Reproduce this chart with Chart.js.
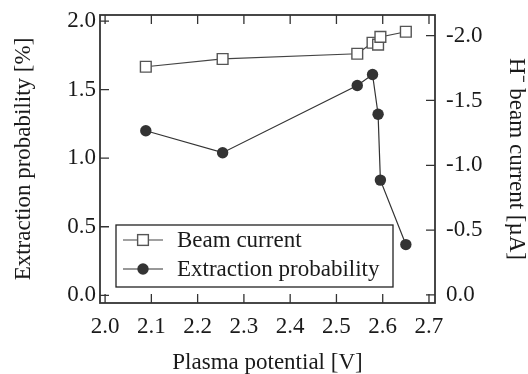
<!DOCTYPE html>
<html>
<head>
<meta charset="utf-8">
<script src="https://cdn.jsdelivr.net/npm/chart.js@4/dist/chart.umd.min.js"></script>
<style>
  html, body { margin: 0; padding: 0; background: #fff; }
  #wrap { width: 528px; height: 374px; position: relative; }
</style>
</head>
<body>
<div id="wrap"><canvas id="chart"></canvas></div>
<script>
// plasma potential [V] of each measurement
const plasmaPotential = [2.088, 2.254, 2.545, 2.578, 2.590, 2.595, 2.650];
// extraction probability [%] (left axis)
const extractionProb = [1.20, 1.04, 1.53, 1.61, 1.32, 0.84, 0.37];
// H- beam current [uA] (right axis, reversed)
const beamCurrent = [-1.76, -1.82, -1.86, -1.945, -1.93, -1.99, -2.03];

const xTicks = [2.0, 2.1, 2.2, 2.3, 2.4, 2.5, 2.6, 2.7];
const leftTicks = [0.0, 0.5, 1.0, 1.5, 2.0];
const rightTicks = [0.0, -0.5, -1.0, -1.5, -2.0];

const FONT = '"Liberation Serif", "Times New Roman", serif';
const INK = '#1a1a1a';

const fmt = v => (Math.abs(v) < 1e-9 ? 0 : v).toFixed(1);

// inward ticks on all four sides plus the frame
const frameTicks = {
  id: 'frameTicks',
  afterDraw(chart) {
    const { ctx, chartArea: a, scales } = chart;
    const len = 9;
    ctx.save();
    ctx.strokeStyle = '#333';
    ctx.lineWidth = 1.3;
    ctx.beginPath();
    xTicks.forEach(v => {
      const px = scales.x.getPixelForValue(v);
      ctx.moveTo(px, a.bottom); ctx.lineTo(px, a.bottom - len);
      ctx.moveTo(px, a.top); ctx.lineTo(px, a.top + len);
    });
    leftTicks.forEach(v => {
      const py = scales.y.getPixelForValue(v);
      ctx.moveTo(a.left, py); ctx.lineTo(a.left + len, py);
    });
    rightTicks.forEach(v => {
      const py = scales.y2.getPixelForValue(v);
      ctx.moveTo(a.right, py); ctx.lineTo(a.right - len, py);
    });
    ctx.stroke();
    ctx.lineWidth = 1.8;
    ctx.strokeRect(a.left, a.top, a.width, a.height);
    ctx.restore();
  }
};

// boxed legend inside the lower-left of the plot
const boxLegend = {
  id: 'boxLegend',
  afterDraw(chart) {
    const { ctx, chartArea: a } = chart;
    const x0 = a.left + 16, w = 277, h = 62;
    const y0 = a.bottom - 16 - h;
    ctx.save();
    ctx.fillStyle = '#fff';
    ctx.fillRect(x0, y0, w, h);
    ctx.strokeStyle = '#222';
    ctx.lineWidth = 1.3;
    ctx.strokeRect(x0, y0, w, h);
    chart.data.datasets.forEach((ds, i) => {
      const cy = y0 + 15 + i * 29;
      const lx = x0 + 7, mx = x0 + 27;
      ctx.strokeStyle = ds.borderColor;
      ctx.lineWidth = ds.borderWidth;
      ctx.beginPath();
      ctx.moveTo(lx, cy); ctx.lineTo(lx + 40, cy);
      ctx.stroke();
      ctx.fillStyle = ds.pointBackgroundColor;
      ctx.strokeStyle = ds.pointBorderColor;
      ctx.lineWidth = ds.pointBorderWidth;
      if (ds.pointStyle === 'rect') {
        const s = Math.SQRT1_2 * ds.pointRadius;
        ctx.fillRect(mx - s, cy - s, 2 * s, 2 * s);
        ctx.strokeRect(mx - s, cy - s, 2 * s, 2 * s);
      } else {
        ctx.beginPath();
        ctx.arc(mx, cy, ds.pointRadius, 0, Math.PI * 2);
        ctx.fill();
      }
      ctx.fillStyle = INK;
      ctx.font = '23px ' + FONT;
      ctx.textBaseline = 'middle';
      ctx.textAlign = 'left';
      ctx.fillText(ds.label, x0 + 61, cy + 1);
    });
    ctx.restore();
  }
};

const noPad = s => { s.paddingTop = 0; s.paddingBottom = 0; s.paddingLeft = 0; s.paddingRight = 0; };

const ctx = document.getElementById('chart').getContext('2d');

new Chart(ctx, {
  type: 'scatter',
  data: {
    datasets: [{
      label: 'Beam current',
      data: plasmaPotential.map((x, i) => ({ x, y: beamCurrent[i] })),
      yAxisID: 'y2',
      showLine: true,
      borderColor: '#444',
      borderWidth: 1.2,
      pointStyle: 'rect',
      pointRadius: 7.6,
      pointBackgroundColor: '#fff',
      pointBorderColor: '#555',
      pointBorderWidth: 1.4
    }, {
      label: 'Extraction probability',
      data: plasmaPotential.map((x, i) => ({ x, y: extractionProb[i] })),
      yAxisID: 'y',
      showLine: true,
      borderColor: '#333',
      borderWidth: 1.2,
      pointStyle: 'circle',
      pointRadius: 5.7,
      pointBackgroundColor: '#333',
      pointBorderColor: '#333',
      pointBorderWidth: 0
    }]
  },
  options: {
    responsive: true,
    maintainAspectRatio: false,
    animation: false,
    layout: { padding: { top: 15, left: 0, right: 0, bottom: 0 } },
    plugins: {
      legend: { display: false },
      tooltip: { enabled: false }
    },
    scales: {
      x: {
        type: 'linear',
        min: 1.989, max: 2.713,
        grid: { display: false, drawTicks: false },
        border: { display: false },
        afterBuildTicks: s => { s.ticks = xTicks.map(value => ({ value })); },
        afterFit: s => { s.height = 71; noPad(s); },
        ticks: {
          padding: 10,
          color: INK,
          font: { family: FONT, size: 23 },
          maxRotation: 0,
          callback: fmt
        },
        title: {
          display: true,
          text: 'Plasma potential [V]',
          color: INK,
          font: { family: FONT, size: 23, lineHeight: 1 },
          padding: { top: 0, bottom: 0 }
        }
      },
      y: {
        position: 'left',
        min: -0.056, max: 2.044,
        grid: { display: false, drawTicks: false },
        border: { display: false },
        afterBuildTicks: s => { s.ticks = leftTicks.map(value => ({ value })); },
        afterFit: s => { s.width = 100; noPad(s); },
        ticks: {
          padding: 4,
          color: INK,
          font: { family: FONT, size: 23 },
          callback: fmt
        },
        title: {
          display: true,
          text: 'Extraction probability [%]',
          color: INK,
          font: { family: FONT, size: 23, lineHeight: 1 },
          padding: { top: 12, bottom: 0 }
        }
      },
      y2: {
        position: 'right',
        reverse: true,
        min: -2.159, max: 0.062,
        grid: { display: false, drawTicks: false },
        border: { display: false },
        afterBuildTicks: s => { s.ticks = rightTicks.map(value => ({ value })); },
        afterFit: s => { s.width = 93; noPad(s); },
        ticks: {
          padding: 11,
          color: INK,
          font: { family: FONT, size: 23 },
          callback: fmt
        },
        title: {
          display: true,
          text: 'H\u207B beam current [\u00B5A]',
          color: INK,
          font: { family: FONT, size: 23, lineHeight: 1 },
          padding: { top: 0, bottom: 0 }
        }
      }
    }
  },
  plugins: [frameTicks, boxLegend]
});
</script>
</body>
</html>
